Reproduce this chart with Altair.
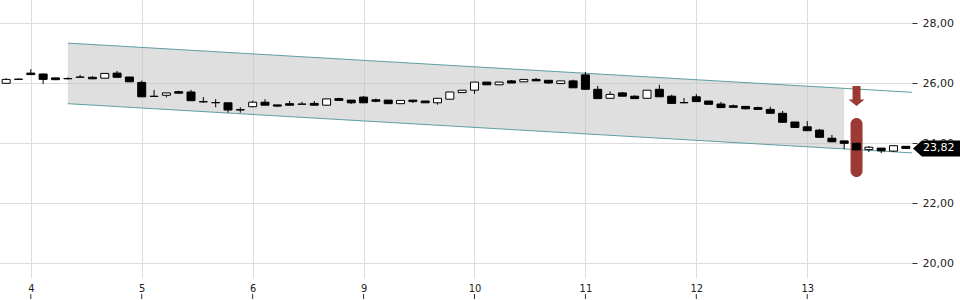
import altair as alt
import pandas as pd

# ---- data ----
day_labels = ["4", "5", "6", "9", "10", "11", "12", "13"]
day_first_candle = [2, 11, 20, 29, 38, 47, 56, 65]

opens = [25.99, 26.12, 26.33, 26.30, 26.17, 26.15, 26.19, 26.19, 26.16, 26.33,
         26.20, 26.02, 25.55, 25.59, 25.71, 25.70, 25.37, 25.35, 25.34, 25.11,
         25.21, 25.36, 25.27, 25.31, 25.29, 25.32, 25.26, 25.48, 25.43, 25.53,
         25.44, 25.43, 25.31, 25.43, 25.40, 25.34, 25.46, 25.68, 25.76, 26.03,
         25.94, 26.07, 26.04, 26.12, 26.09, 25.98, 26.07, 26.27, 25.79, 25.49,
         25.67, 25.56, 25.49, 25.79, 25.56, 25.35, 25.54, 25.40, 25.30, 25.24,
         25.22, 25.18, 25.12, 24.99, 24.70, 24.54, 24.43, 24.16, 24.07, 23.99,
         23.78, 23.83, 23.73, 23.89]
highs = [26.16, 26.15, 26.46, 26.32, 26.17, 26.19, 26.27, 26.23, 26.32, 26.40,
         26.20, 26.08, 25.77, 25.67, 25.74, 25.77, 25.53, 25.46, 25.34, 25.19,
         25.41, 25.46, 25.27, 25.40, 25.37, 25.40, 25.47, 25.51, 25.43, 25.57,
         25.48, 25.43, 25.42, 25.43, 25.40, 25.49, 25.70, 25.76, 26.03, 26.03,
         26.03, 26.10, 26.12, 26.17, 26.09, 26.07, 26.11, 26.37, 25.90, 25.72,
         25.70, 25.59, 25.76, 25.94, 25.61, 25.50, 25.63, 25.40, 25.37, 25.28,
         25.22, 25.21, 25.21, 25.07, 24.70, 24.73, 24.47, 24.27, 24.07, 24.01,
         23.90, 23.83, 23.91, 23.90]
lows = [25.99, 26.10, 26.28, 25.97, 26.11, 26.12, 26.19, 26.13, 26.16, 26.19,
        26.04, 25.54, 25.55, 25.52, 25.66, 25.41, 25.34, 25.19, 25.01, 25.01,
        25.19, 25.26, 25.20, 25.26, 25.29, 25.26, 25.26, 25.40, 25.30, 25.34,
        25.36, 25.31, 25.31, 25.33, 25.34, 25.28, 25.46, 25.68, 25.64, 25.94,
        25.94, 26.00, 26.04, 26.07, 25.97, 25.98, 25.84, 25.79, 25.48, 25.49,
        25.56, 25.48, 25.49, 25.54, 25.32, 25.32, 25.38, 25.29, 25.18, 25.19,
        25.12, 25.12, 24.99, 24.69, 24.52, 24.41, 24.19, 24.04, 23.80, 23.77,
        23.70, 23.66, 23.70, 23.82]
closes = [26.12, 26.13, 26.28, 26.12, 26.11, 26.14, 26.20, 26.14, 26.32, 26.19,
          26.04, 25.54, 25.56, 25.67, 25.66, 25.41, 25.38, 25.34, 25.10, 25.10,
          25.36, 25.26, 25.23, 25.26, 25.30, 25.26, 25.47, 25.42, 25.34, 25.34,
          25.39, 25.31, 25.42, 25.38, 25.34, 25.49, 25.70, 25.76, 26.03, 25.94,
          26.03, 26.00, 26.12, 26.07, 26.00, 26.07, 25.84, 25.79, 25.48, 25.62,
          25.56, 25.48, 25.76, 25.54, 25.32, 25.34, 25.38, 25.29, 25.18, 25.19,
          25.14, 25.12, 24.99, 24.69, 24.52, 24.41, 24.19, 24.04, 23.99, 23.77,
          23.86, 23.74, 23.91, 23.82]

# trend channel (start / end candle positions and the upper line's end values)
channel_x = [5, 73.5]
channel_upper = [27.33, 25.69]
channel_width = 2.02
channel_fill_end = 68

# sell signal annotation
signal_idx = 69
arrow_price = 25.57
bar_top, bar_bottom = 24.83, 22.87

RED = "#9b3a34"
TEAL = "#5f9ea0"
GRID = "#dcdcdc"
FONT = "DejaVu Sans"

df = pd.DataFrame({
    "i": list(range(len(opens))),
    "open": opens, "high": highs, "low": lows, "close": closes,
})

slope = (channel_upper[1] - channel_upper[0]) / (channel_x[1] - channel_x[0])
up_fill_end = channel_upper[0] + slope * (channel_fill_end - channel_x[0])
fill_df = pd.DataFrame({
    "i": [channel_x[0], channel_fill_end],
    "up": [channel_upper[0], up_fill_end],
    "lo": [channel_upper[0] - channel_width, up_fill_end - channel_width],
})
line_df = pd.DataFrame({
    "i": channel_x,
    "up": channel_upper,
    "lo": [v - channel_width for v in channel_upper],
})
ticks_df = pd.DataFrame({"i": day_first_candle})
sig_df = pd.DataFrame({"i": [signal_idx], "arrow": [arrow_price],
                       "top": [bar_top], "bottom": [bar_bottom]})
last_df = pd.DataFrame({"close": [closes[-1]],
                        "lbl": [f"{closes[-1]:.2f}".replace(".", ",")]})

label_expr = " : ".join(
    f"datum.value == {v} ? '{l}'" for v, l in zip(day_first_candle, day_labels)
) + " : ''"

x_scale = alt.Scale(domain=[-0.5, 73.5], nice=False, zero=False, padding=0)
y_scale = alt.Scale(domain=[19.5, 28.7667], nice=False, zero=False, padding=0)

x_axis = alt.Axis(values=day_first_candle, labelExpr=label_expr, grid=True,
                  gridColor=GRID, tickSize=0, domain=False, labelPadding=4,
                  labelFont="DejaVu Sans Condensed", labelFontSize=11,
                  labelColor="#222222", title=None)
y_axis = alt.Axis(orient="right", values=[20, 22, 24, 26, 28],
                  labelExpr="replace(format(datum.value, '.2f'), '.', ',')",
                  grid=True, gridColor=GRID, domain=False, tickSize=5,
                  tickColor="#333333", labelPadding=5, labelFont=FONT,
                  labelFontSize=11, labelColor="#222222", title=None)


def X(field="i:Q"):
    return alt.X(field, scale=x_scale, axis=x_axis)


def Y(field):
    return alt.Y(field, scale=y_scale, axis=y_axis)


band = alt.Chart(fill_df).mark_area(color="#c0c0c0", opacity=0.5).encode(
    x=X(), y=Y("up:Q"), y2="lo:Q")

upper = alt.Chart(line_df).mark_line(color=TEAL, strokeWidth=1).encode(
    x=X(), y=Y("up:Q"))
lower = alt.Chart(line_df).mark_line(color=TEAL, strokeWidth=1).encode(
    x=X(), y=Y("lo:Q"))

xticks = alt.Chart(ticks_df).mark_rule(color="#333333", strokeWidth=1).encode(
    x=X(), y=alt.value(294), y2=alt.value(299))

redbar = alt.Chart(sig_df).mark_bar(size=12, cornerRadius=6, color=RED).encode(
    x=X(), y=Y("top:Q"), y2="bottom:Q")

arrow_path = "M -0.4 -1 L 0.4 -1 L 0.4 0.35 L 0.8 0.35 L 0 1 L -0.8 0.35 L -0.4 0.35 Z"
arrow = alt.Chart(sig_df).mark_point(shape=arrow_path, size=400, filled=True,
                                     color=RED, opacity=1, strokeWidth=0).encode(
    x=X(), y=Y("arrow:Q"))

wicks = alt.Chart(df).mark_rule(color="black", strokeWidth=1).encode(
    x=X(), y=Y("low:Q"), y2="high:Q")

bodies = alt.Chart(df).mark_bar(size=8, stroke="black", strokeWidth=1).encode(
    x=X(), y=Y("open:Q"), y2="close:Q",
    fill=alt.condition("datum.close >= datum.open", alt.value("white"), alt.value("black")))

tag_path = "M -1 0 L -0.62 -0.34 L 1 -0.34 L 1 0.34 L -0.62 0.34 Z"
tag = alt.Chart(last_df).mark_point(shape=tag_path, size=2209, filled=True,
                                    color="black", opacity=1, strokeWidth=0).encode(
    x=alt.value(936.5), y=Y("close:Q"))
tag_text = alt.Chart(last_df).mark_text(align="left", baseline="middle", color="white",
                                        font=FONT, fontSize=11).encode(
    x=alt.value(923), y=Y("close:Q"), text="lbl:N")

chart = alt.layer(band, upper, lower, xticks, redbar, arrow, wicks, bodies, tag, tag_text).properties(
    width=912, height=278,
    autosize=alt.AutoSizeParams(type="none"),
    padding={"left": 0, "top": 0, "right": 48, "bottom": 22},
    background="white",
).configure_view(stroke=None)

chart.save("out.html", embed_options={"renderer": "svg", "actions": False})
